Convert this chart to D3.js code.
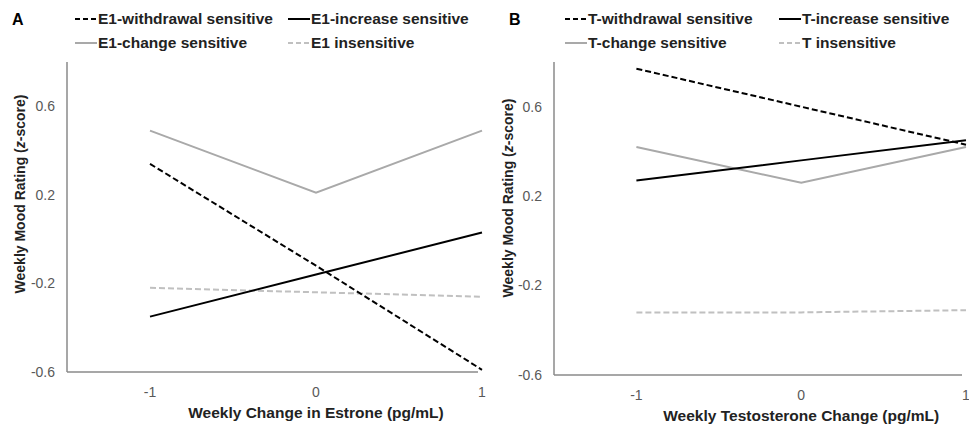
<!DOCTYPE html>
<html>
<head>
<meta charset="utf-8">
<script src="https://cdn.jsdelivr.net/npm/d3@7/dist/d3.min.js"></script>
<style>
  body { margin: 0; background: #fff; }
  svg { display: block; font-family: "Liberation Sans", Arial, sans-serif; }
</style>
</head>
<body>
<svg id="chart" width="969" height="426"></svg>
<script>
// weekly hormone change (standardized)
var xVals = [-1, 0, 1];
var xTicks = [-1, 0, 1];
var yTicks = [-0.6, -0.2, 0.2, 0.6];

// panel A: estrone
var e1Withdrawal = [0.34, -0.12, -0.59];
var e1Increase = [-0.35, -0.16, 0.03];
var e1Change = [0.49, 0.21, 0.49];
var e1Insensitive = [-0.22, -0.24, -0.26];

// panel B: testosterone
var tWithdrawal = [0.77, 0.60, 0.43];
var tIncrease = [0.27, 0.36, 0.45];
var tChange = [0.42, 0.26, 0.42];
var tInsensitive = [-0.32, -0.32, -0.31];

var styles = {
  withdrawal: { color: "#000", dash: "6,3" },
  increase: { color: "#000", dash: null },
  change: { color: "#a9a9a9", dash: null },
  insensitive: { color: "#c0c0c0", dash: "6,3" }
};

var svg = d3.select("#chart");

function drawPanel(p) {
  var x = d3.scaleLinear().domain([-1.5, 1]).range([p.left, p.right]);
  var y = d3.scaleLinear().domain([-0.6, 0.8]).range([p.bottom, p.top]);
  var g = svg.append("g");

  // panel letter
  g.append("text")
    .attr("x", p.letterX).attr("y", 25)
    .attr("font-size", 16).attr("font-weight", "bold")
    .text(p.letter);

  // legend
  var legend = [
    { key: "withdrawal", label: p.prefix + "-withdrawal sensitive", col: 0, row: 0 },
    { key: "increase", label: p.prefix + "-increase sensitive", col: 1, row: 0 },
    { key: "change", label: p.prefix + "-change sensitive", col: 0, row: 1 },
    { key: "insensitive", label: p.prefix + " insensitive", col: 1, row: 1 }
  ];
  var li = g.selectAll(".leg").data(legend).enter().append("g")
    .attr("transform", function(d) {
      return "translate(" + p.legendCols[d.col] + "," + (19 + d.row * 24) + ")";
    });
  li.append("line")
    .attr("x1", 0).attr("x2", 22).attr("y1", 0).attr("y2", 0)
    .attr("stroke", function(d) { return styles[d.key].color; })
    .attr("stroke-width", 2)
    .attr("stroke-dasharray", function(d) { return styles[d.key].dash ? "5,3" : null; });
  li.append("text")
    .attr("x", 23).attr("dy", "0.35em")
    .attr("font-size", 15.5).attr("font-weight", "bold").attr("fill", "#222")
    .text(function(d) { return d.label; });

  // series
  var line = d3.line()
    .x(function(d) { return x(d[0]); })
    .y(function(d) { return y(d[1]); });
  var order = ["insensitive", "change", "increase", "withdrawal"];
  order.forEach(function(k) {
    var pts = xVals.map(function(v, i) { return [v, p.series[k][i]]; });
    g.append("path")
      .attr("d", line(pts))
      .attr("fill", "none")
      .attr("stroke", styles[k].color)
      .attr("stroke-width", 2)
      .attr("stroke-dasharray", styles[k].dash);
  });

  // axes (lines only, no tick marks)
  g.append("line")
    .attr("x1", p.left).attr("x2", p.left)
    .attr("y1", p.top).attr("y2", p.bottom)
    .attr("stroke", "#8a8a8a").attr("stroke-width", 1.5);
  g.append("line")
    .attr("x1", p.left).attr("x2", p.right - 4)
    .attr("y1", p.bottom).attr("y2", p.bottom)
    .attr("stroke", "#8a8a8a").attr("stroke-width", 1.5);

  g.selectAll(".ytick").data(yTicks).enter().append("text")
    .attr("x", p.left - 12).attr("y", function(d) { return y(d); })
    .attr("dy", "0.35em").attr("text-anchor", "end")
    .attr("font-size", 14).attr("fill", "#595959")
    .text(function(d) { return d.toFixed(1); });

  g.selectAll(".xtick").data(xTicks).enter().append("text")
    .attr("x", function(d) { return x(d); }).attr("y", p.bottom + 20)
    .attr("dy", "0.35em").attr("text-anchor", "middle")
    .attr("font-size", 14).attr("fill", "#595959")
    .text(function(d) { return String(d); });

  // axis titles
  g.append("text")
    .attr("x", x(0)).attr("y", p.bottom + 46)
    .attr("text-anchor", "middle")
    .attr("font-size", 15.5).attr("font-weight", "bold").attr("fill", "#222")
    .text(p.xTitle);

  var yt = g.append("text")
    .attr("transform", "translate(" + p.yTitleX + "," + p.yTitleY + ") rotate(-90)")
    .attr("text-anchor", "middle").attr("dy", "0.35em")
    .attr("font-size", 14).attr("font-weight", "bold").attr("fill", "#222");
  yt.append("tspan").text("Weekly Mood Rating (");
  yt.append("tspan").attr("font-style", "italic").text("z");
  yt.append("tspan").text("-score)");
}

drawPanel({
  letter: "A", letterX: 12, prefix: "E1",
  left: 67, right: 482, top: 62, bottom: 372,
  legendCols: [75, 288], yTitleX: 20, yTitleY: 194,
  xTitle: "Weekly Change in Estrone (pg/mL)",
  series: { withdrawal: e1Withdrawal, increase: e1Increase, change: e1Change, insensitive: e1Insensitive }
});

drawPanel({
  letter: "B", letterX: 509, prefix: "T",
  left: 554, right: 966, top: 62, bottom: 375,
  legendCols: [565, 779], yTitleX: 508, yTitleY: 198,
  xTitle: "Weekly Testosterone Change (pg/mL)",
  series: { withdrawal: tWithdrawal, increase: tIncrease, change: tChange, insensitive: tInsensitive }
});
</script>
</body>
</html>
